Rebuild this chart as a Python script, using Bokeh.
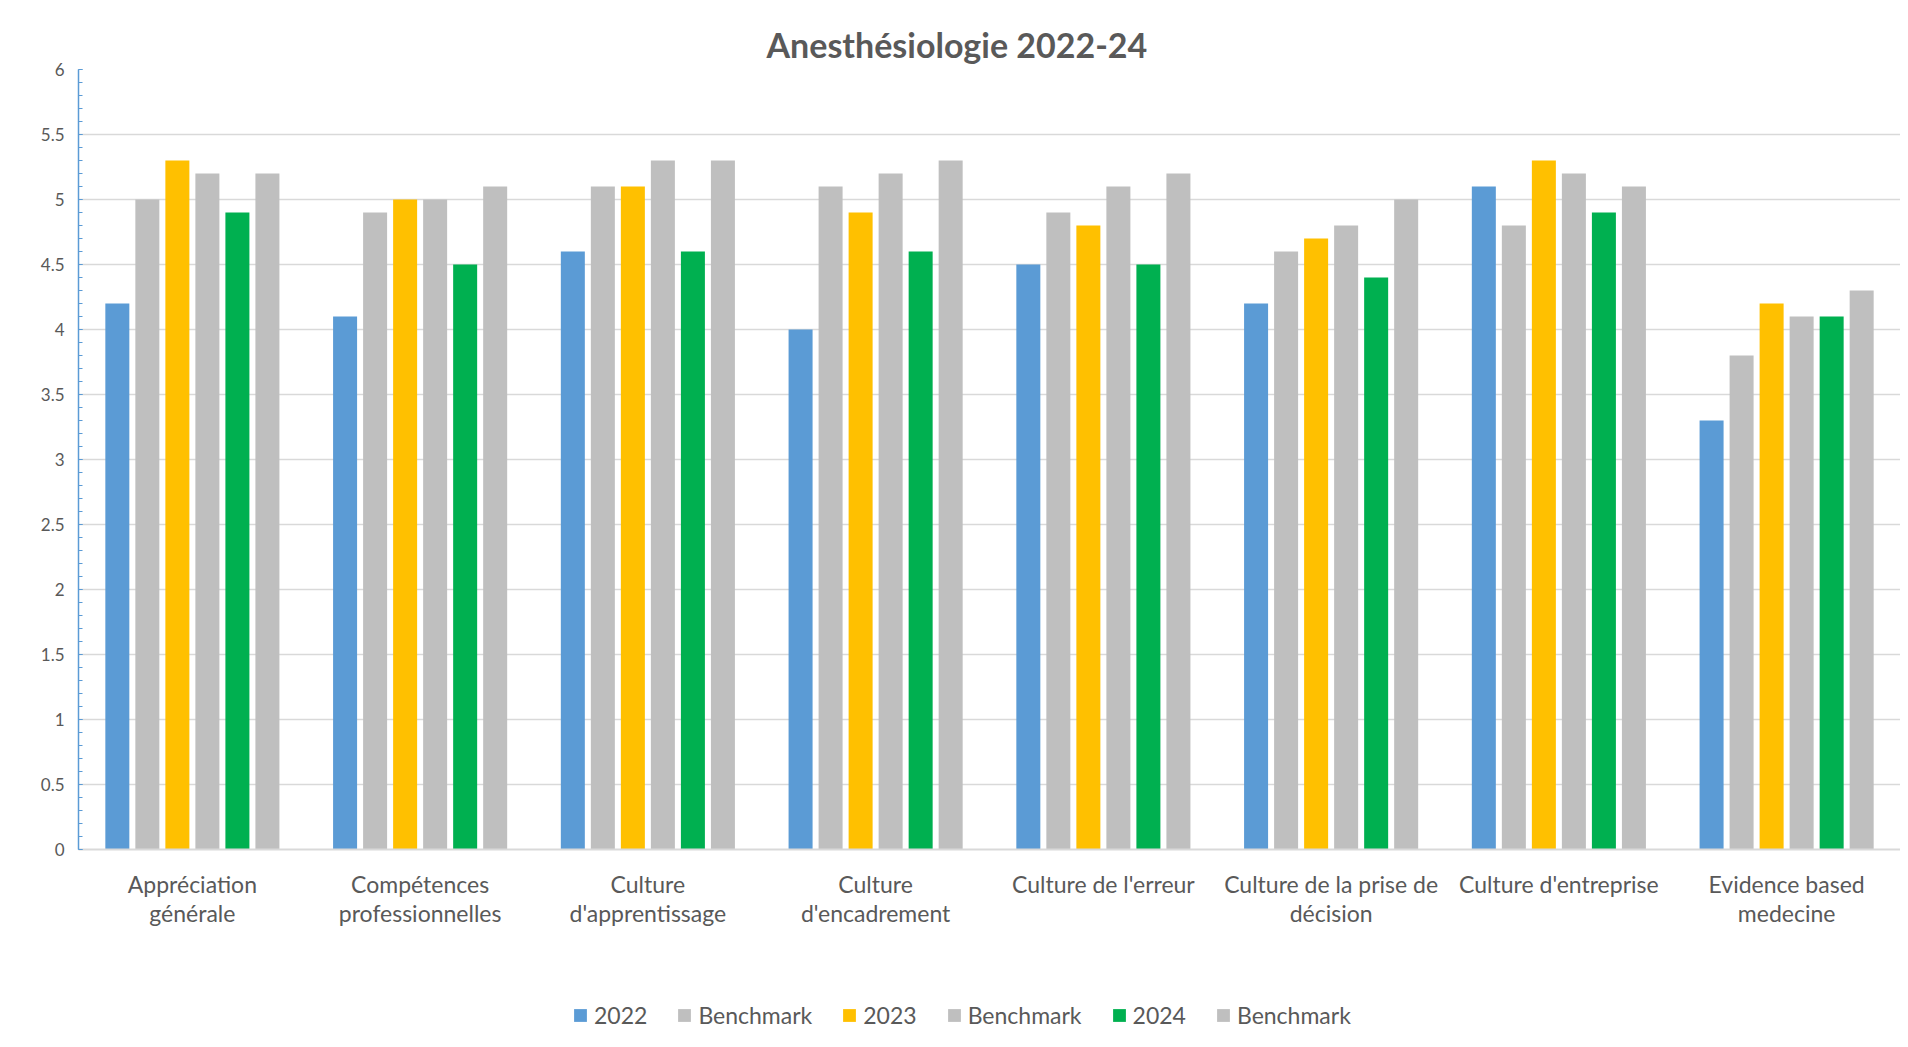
from bokeh.plotting import figure
from bokeh.layouts import column
from bokeh.models import (ColumnDataSource, FactorRange, Range1d, SingleIntervalTicker,
                          NumeralTickFormatter, Legend, LegendItem)
from bokeh.transform import dodge
from bokeh.embed import file_html
from bokeh.resources import INLINE

# category tick labels (as shown, with their line breaks)
categories = ["Appréciation\ngénérale", "Compétences\nprofessionnelles", "Culture\nd'apprentissage",
              "Culture\nd'encadrement", "Culture de l'erreur", "Culture de la prise de\ndécision",
              "Culture d'entreprise", "Evidence based\nmedecine"]

series_names = ["2022", "Benchmark", "2023", "Benchmark", "2024", "Benchmark"]
v2022 = [4.2, 4.1, 4.6, 4.0, 4.5, 4.2, 5.1, 3.3]
bench2022 = [5.0, 4.9, 5.1, 5.1, 4.9, 4.6, 4.8, 3.8]
v2023 = [5.3, 5.0, 5.1, 4.9, 4.8, 4.7, 5.3, 4.2]
bench2023 = [5.2, 5.0, 5.3, 5.2, 5.1, 4.8, 5.2, 4.1]
v2024 = [4.9, 4.5, 4.6, 4.6, 4.5, 4.4, 4.9, 4.1]
bench2024 = [5.2, 5.1, 5.3, 5.3, 5.2, 5.0, 5.1, 4.3]
y_ticks_interval = 0.5

colors = ["#5B9BD5", "#BFBFBF", "#FFC000", "#BFBFBF", "#00B050", "#BFBFBF"]
keys = ["s0", "s1", "s2", "s3", "s4", "s5"]

source = ColumnDataSource(dict(cat=categories, s0=v2022, s1=bench2022, s2=v2023,
                               s3=bench2023, s4=v2024, s5=bench2024))

TEXT = "#595959"
GRID = "#D9D9D9"

p = figure(width=1900, height=959, x_range=FactorRange(*categories), y_range=Range1d(0, 6),
           output_backend="svg", toolbar_location=None,
           min_border_left=78, min_border_right=0, min_border_top=69, min_border_bottom=110)

p.title.text = "Anesthésiologie 2022-24"
p.title.text_font = "Lato"
p.title.text_font_style = "bold"
p.title.text_font_size = "34px"
p.title.text_color = TEXT
p.title.align = "left"
p.title.offset = 688
p.title.standoff = 9

p.outline_line_color = None
p.background_fill_color = "white"
p.border_fill_color = "white"

pitch = 0.1318
bw = 0.1054
for i, (k, c) in enumerate(zip(keys, colors)):
    p.vbar(x=dodge("cat", (i - 2.5) * pitch, range=p.x_range), top=k, width=bw,
           source=source, fill_color=c, line_color=None)

# axes
p.xaxis.major_label_text_font = "Lato"
p.xaxis.major_label_text_font_size = "23px"
p.xaxis.major_label_text_color = TEXT
p.xaxis.major_label_text_line_height = 1.05
p.xaxis.major_label_standoff = 14
p.xaxis.major_tick_line_color = None
p.xaxis.minor_tick_line_color = None
p.xaxis.axis_line_color = GRID
p.xaxis.axis_line_width = 2

p.yaxis.ticker = SingleIntervalTicker(interval=y_ticks_interval, num_minor_ticks=5)
p.yaxis.formatter = NumeralTickFormatter(format="0.[0]")
p.yaxis.major_label_text_font = "Lato"
p.yaxis.major_label_text_font_size = "17px"
p.yaxis.major_label_text_color = TEXT
p.yaxis.axis_line_color = "#5B9BD5"
p.yaxis.axis_line_width = 1.5
p.yaxis.major_tick_line_color = "#5B9BD5"
p.yaxis.minor_tick_line_color = "#5B9BD5"
p.yaxis.major_tick_in = 4
p.yaxis.major_tick_out = 0
p.yaxis.minor_tick_in = 4
p.yaxis.minor_tick_out = 0
p.yaxis.major_label_standoff = 14

p.xgrid.grid_line_color = None
p.ygrid.grid_line_color = GRID
p.ygrid.grid_line_width = 1.5

# legend strip below the chart (swatches are zero-size placeholders carrying the colours)
lp = figure(width=1900, height=80, x_range=Range1d(0, 1), y_range=Range1d(0, 1),
            output_backend="svg", toolbar_location=None, x_axis_type=None, y_axis_type=None,
            min_border_left=0, min_border_right=0, min_border_top=0, min_border_bottom=0)
lp.outline_line_color = None
lp.xgrid.visible = False
lp.ygrid.visible = False
lp.border_fill_color = "white"
swatches = [lp.vbar(x=[0], top=[0], width=0, fill_color=c, line_color=None) for c in colors]

legend = Legend(items=[LegendItem(label=n, renderers=[r]) for n, r in zip(series_names, swatches)],
                orientation="horizontal", location=(494, 10))
legend.label_text_font = "Lato"
legend.label_text_font_size = "23px"
legend.label_text_color = TEXT
legend.glyph_width = 16
legend.glyph_height = 16
legend.label_standoff = 6
legend.spacing = 29
legend.padding = 0
legend.margin = 0
legend.border_line_color = None
legend.background_fill_alpha = 0
lp.add_layout(legend)

layout = column(p, lp, spacing=0)
open("out.html", "w").write(file_html(layout, INLINE))
